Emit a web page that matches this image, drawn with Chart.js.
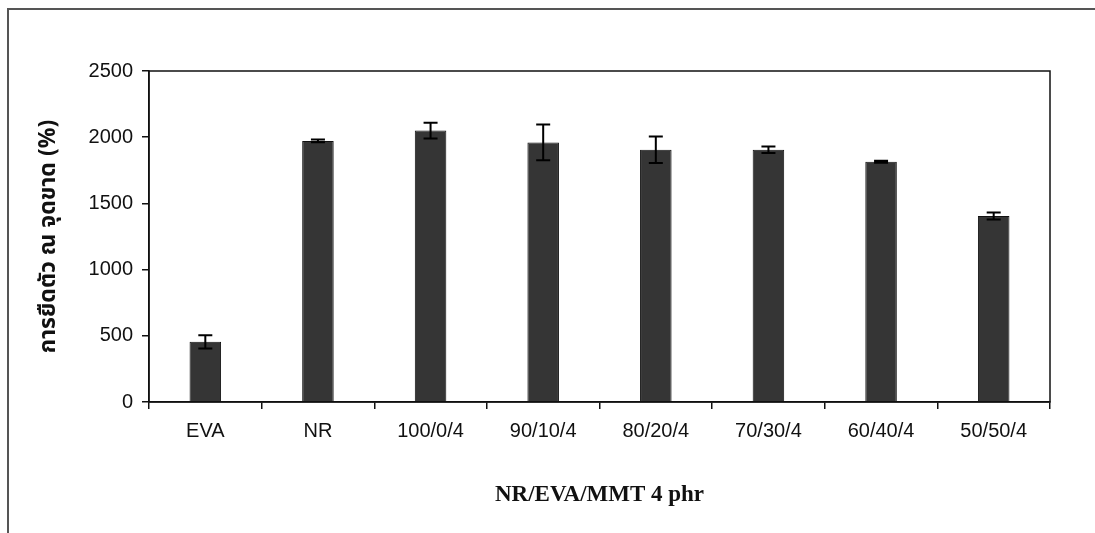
<!DOCTYPE html>
<html><head><meta charset="utf-8">
<script src="https://cdn.jsdelivr.net/npm/chart.js@4.4.0/dist/chart.umd.min.js"></script>
<style>html,body{margin:0;padding:0;background:#fff}#wrap{position:relative;width:1095px;height:533px}</style>
</head><body><div id="wrap"><canvas id="c" width="1095" height="533"></canvas></div>
<script>
const categories = ['EVA', 'NR', '100/0/4', '90/10/4', '80/20/4', '70/30/4', '60/40/4', '50/50/4'];
const elongation = [455, 1972, 2050, 1960, 1905, 1905, 1815, 1405];
const elongationErr = [50, 10, 60, 135, 100, 25, 8, 27];
const yTicks = [0, 500, 1000, 1500, 2000, 2500];
const yTitle = 'การยืดตัว ณ จุดขาด (%)';
const xTitle = 'NR/EVA/MMT 4 phr';

const errorBars = {
  id: 'errorBars',
  afterDatasetsDraw(chart) {
    const ctx = chart.ctx, ys = chart.scales.y;
    const meta = chart.getDatasetMeta(0);
    ctx.save();
    ctx.strokeStyle = '#000';
    ctx.lineWidth = 2;
    meta.data.forEach((el, i) => {
      const v = elongation[i], e = elongationErr[i];
      const yt = ys.getPixelForValue(v + e), yb = ys.getPixelForValue(v - e);
      const x = el.x, w = 7;
      ctx.beginPath();
      ctx.moveTo(x, yt); ctx.lineTo(x, yb);
      ctx.moveTo(x - w, yt); ctx.lineTo(x + w, yt);
      ctx.moveTo(x - w, yb); ctx.lineTo(x + w, yb);
      ctx.stroke();
    });
    ctx.restore();
  }
};
const frame = {
  id: 'frame',
  beforeDraw(chart) {
    const ctx = chart.ctx;
    ctx.save();
    ctx.fillStyle = '#fff';
    ctx.fillRect(0, 0, chart.width, chart.height);
    ctx.strokeStyle = '#555';
    ctx.lineWidth = 2;
    ctx.beginPath();
    ctx.moveTo(8, 533); ctx.lineTo(8, 9); ctx.lineTo(1095, 9);
    ctx.stroke();
    ctx.restore();
  },
  afterDraw(chart) {
    const a = chart.chartArea, ctx = chart.ctx;
    ctx.save();
    ctx.strokeStyle = '#111';
    ctx.lineWidth = 1.5;
    ctx.strokeRect(a.left, a.top, a.right - a.left, a.bottom - a.top);
    ctx.restore();
  }
};

new Chart(document.getElementById('c'), {
  type: 'bar',
  data: {
    labels: categories,
    datasets: [{
      data: elongation,
      backgroundColor: '#353535',
      borderColor: '#111',
      borderWidth: 1,
      barPercentage: 0.28,
      categoryPercentage: 1
    }]
  },
  plugins: [frame, errorBars],
  options: {
    responsive: false,
    animation: false,
    layout: { padding: { left: 0, top: 71, right: 45, bottom: 0 } },
    plugins: { legend: { display: false }, tooltip: { enabled: false } },
    scales: {
      x: {
        afterFit(s) { s.height = 131; },
        grid: { display: true, offset: true, drawOnChartArea: false, tickLength: 7, color: '#111', lineWidth: 1.5 },
        border: { display: true, color: '#111', width: 1.5 },
        ticks: { color: '#111', padding: 10, font: { family: 'Liberation Sans, Arial, sans-serif', size: 20 } },
        title: { display: true, text: xTitle, color: '#111', padding: { top: 0, bottom: 24 },
          font: { family: 'Liberation Serif, Times New Roman, serif', size: 23, weight: 'bold' } }
      },
      y: {
        min: 0, max: 2500,
        afterFit(s) { s.width = 149; },
        afterBuildTicks(s) { s.ticks = yTicks.map(v => ({ value: v })); },
        grid: { display: true, drawOnChartArea: false, tickLength: 7, color: '#111', lineWidth: 1.5 },
        border: { display: true, color: '#111', width: 1.5 },
        ticks: { color: '#111', padding: 9, font: { family: 'Liberation Sans, Arial, sans-serif', size: 20 },
          callback: v => String(v) },
        title: { display: true, text: yTitle, color: '#111', padding: { top: 37, bottom: 0 },
          font: { family: 'Noto Sans Thai, Tahoma, DejaVu Sans, sans-serif', size: 23, weight: 'bold' } }
      }
    }
  }
});
</script></body></html>
